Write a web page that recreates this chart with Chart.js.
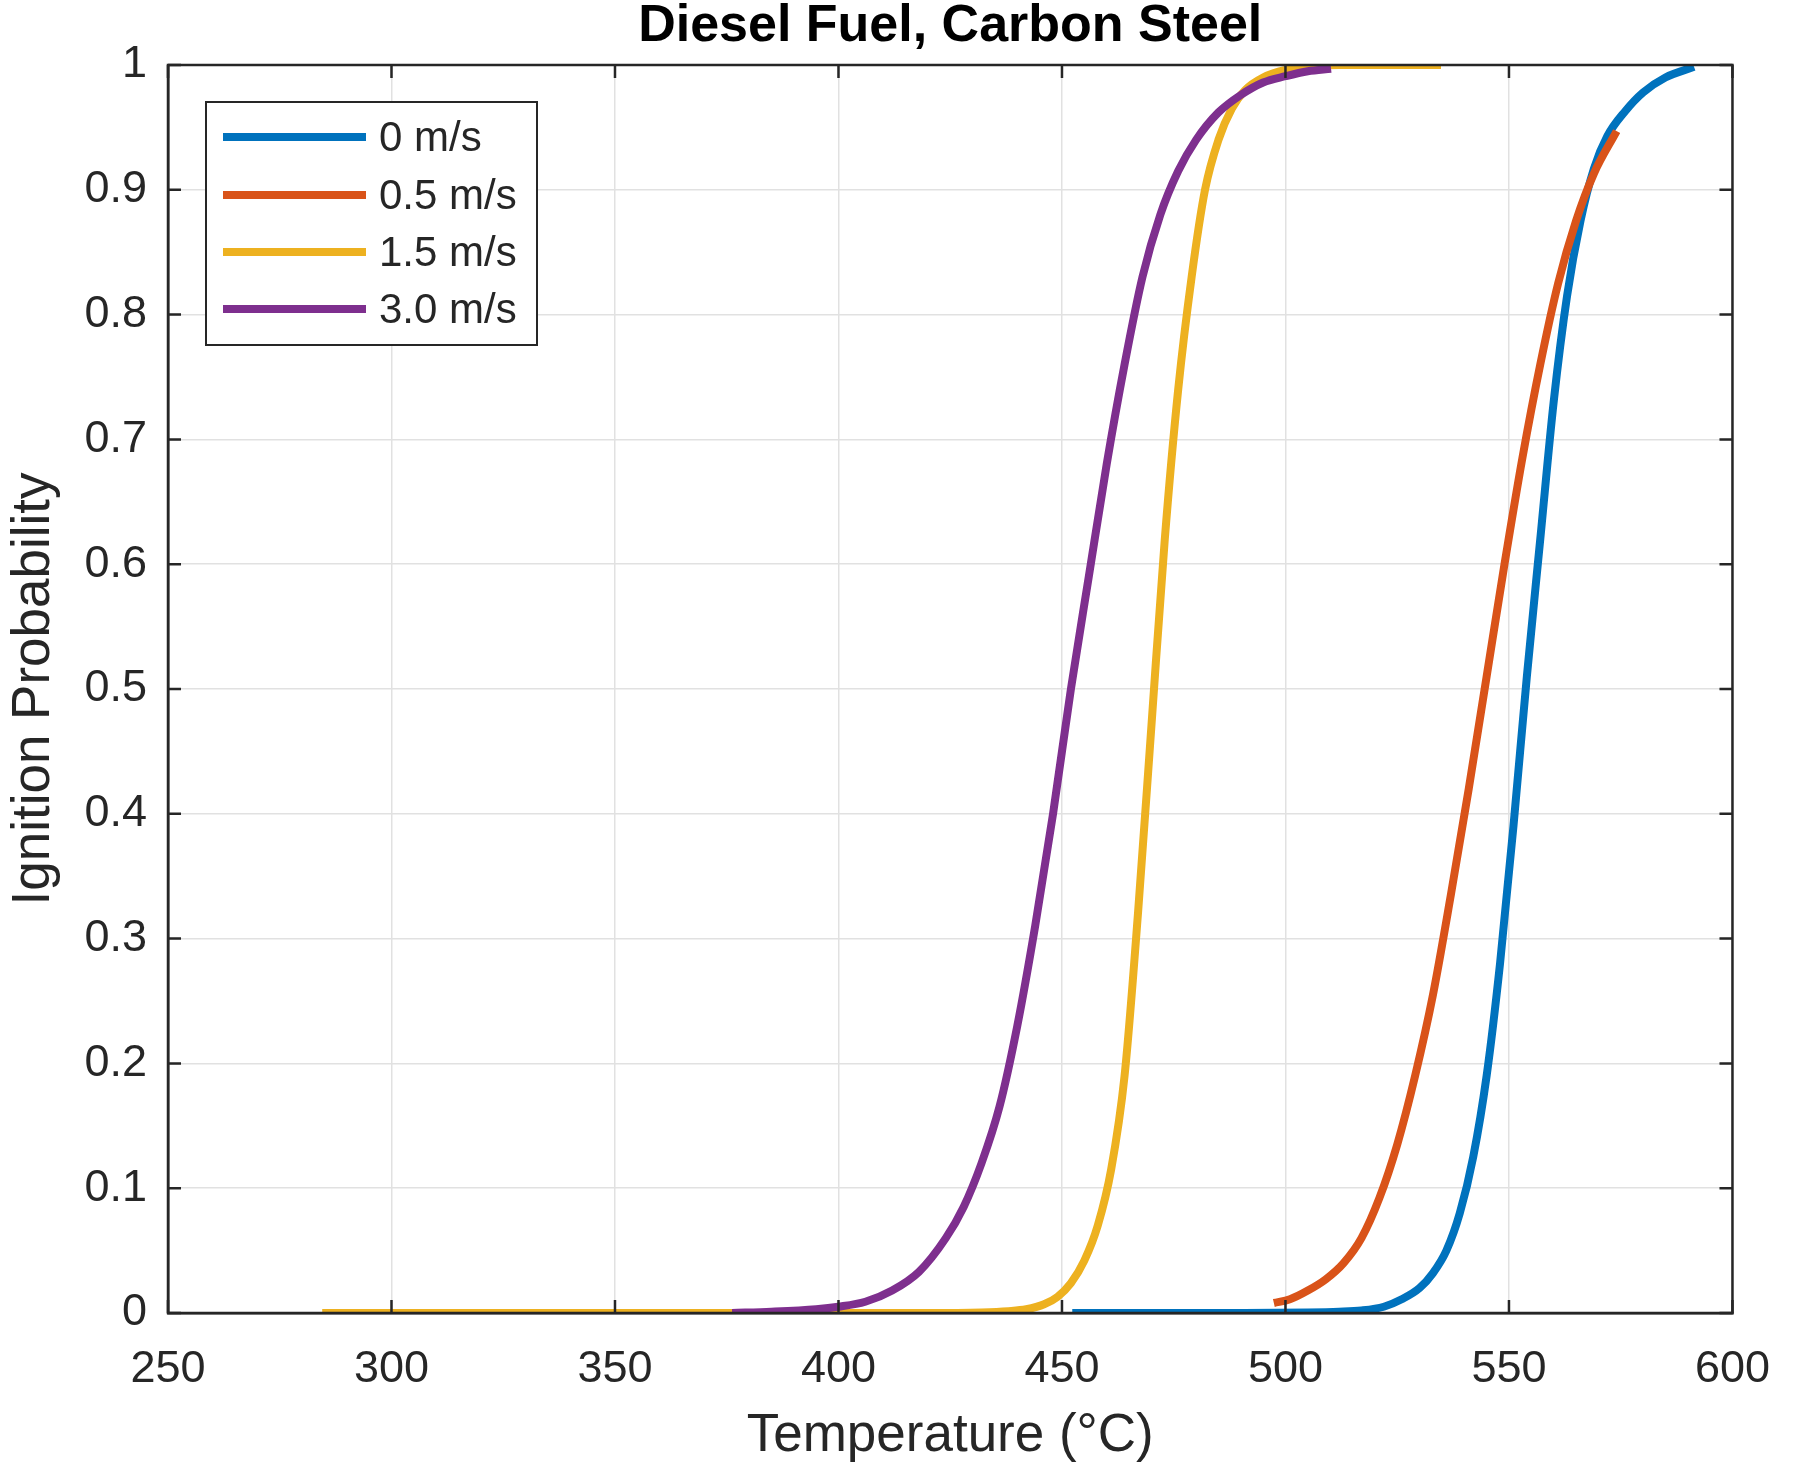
<!DOCTYPE html>
<html>
<head>
<meta charset="utf-8">
<script src="https://cdn.jsdelivr.net/npm/chart.js@4.4.1/dist/chart.umd.min.js"></script>
<style>
  html, body { margin: 0; padding: 0; background: #ffffff; }
  canvas { display: block; }
</style>
</head>
<body>
<canvas id="c" width="1800" height="1473"></canvas>
<script>
// ---- Data ----
const seriesLabels = ['0 m/s', '0.5 m/s', '1.5 m/s', '3.0 m/s'];
const seriesColors = ['#0072BD', '#D95319', '#EDB120', '#7E2F8E'];

const temp0 = [452.3, 490, 505, 512, 517, 522, 526, 530, 533, 536, 539, 542, 545, 548, 551, 554, 557, 560, 563, 566, 569, 572, 576, 580, 585, 591.4];
const prob0 = [0, 0, 0.0004, 0.001, 0.002, 0.005, 0.011, 0.02, 0.032, 0.05, 0.08, 0.125, 0.19, 0.28, 0.39, 0.51, 0.62, 0.73, 0.815, 0.875, 0.917, 0.943, 0.963, 0.978, 0.99, 0.9985];

const temp05 = [497.4, 501, 505, 509, 513, 517, 521, 525, 529, 533, 537, 541, 545, 549, 553, 557, 561, 565, 569, 574.1];
const prob05 = [0.008, 0.011, 0.018, 0.027, 0.04, 0.06, 0.092, 0.135, 0.19, 0.255, 0.335, 0.42, 0.51, 0.6, 0.685, 0.76, 0.825, 0.875, 0.913, 0.947];

const temp15 = [284.5, 380, 420, 432, 438, 442, 446, 449, 452, 455, 458, 461, 464, 467, 470, 473, 476, 479, 482, 485, 488, 491, 495, 500, 506, 512, 534.8];
const prob15 = [0, 0, 0, 0.0005, 0.0015, 0.003, 0.007, 0.013, 0.024, 0.042, 0.07, 0.115, 0.19, 0.32, 0.47, 0.62, 0.74, 0.83, 0.9, 0.94, 0.965, 0.98, 0.99, 0.996, 0.999, 1, 1];

const temp30 = [376.2, 385, 395, 400, 406, 412, 418, 424, 428, 432, 436, 440, 444, 448, 452, 456, 460, 464, 468, 472, 476, 480, 485, 490, 495, 500, 505, 510.2];
const prob30 = [0, 0.001, 0.003, 0.005, 0.009, 0.018, 0.033, 0.06, 0.085, 0.12, 0.165, 0.23, 0.31, 0.4, 0.5, 0.59, 0.68, 0.76, 0.83, 0.88, 0.915, 0.94, 0.962, 0.976, 0.986, 0.991, 0.995, 0.997];

const xTickValues = [250, 300, 350, 400, 450, 500, 550, 600];
const yTickValues = [0, 0.1, 0.2, 0.3, 0.4, 0.5, 0.6, 0.7, 0.8, 0.9, 1];

const chartTitle = 'Diesel Fuel, Carbon Steel';
const xTitle = 'Temperature (°C)';
const yTitle = 'Ignition Probability';

// ---- Build datasets ----
const xs = [temp0, temp05, temp15, temp30];
const ys = [prob0, prob05, prob15, prob30];
const drawOrder = [3, 2, 1, 0]; // later (MATLAB) series drawn on top

const FONT = "'Liberation Sans', Arial, Helvetica, sans-serif";
const AXIS_COLOR = '#262626';
const LINE_W = 8;

const datasets = seriesLabels.map((lab, i) => ({
  label: lab,
  data: xs[i].map((x, k) => ({ x: x, y: ys[i][k] })),
  borderColor: seriesColors[i],
  backgroundColor: seriesColors[i],
  borderWidth: LINE_W,
  pointRadius: 0,
  pointHoverRadius: 0,
  fill: false,
  cubicInterpolationMode: 'monotone',
  borderCapStyle: 'butt',
  order: drawOrder[i]
}));

// ---- Plugins: box with inward ticks, and MATLAB-style legend ----
const boxPlugin = {
  id: 'boxTicks',
  afterDatasetsDraw(chart) {
    const ctx = chart.ctx;
    const a = chart.chartArea;
    const xs_ = chart.scales.x, ys_ = chart.scales.y;
    const tl = 13;
    ctx.save();
    ctx.strokeStyle = AXIS_COLOR;
    ctx.lineWidth = 2.5;
    ctx.beginPath();
    xTickValues.forEach(v => {
      const p = xs_.getPixelForValue(v);
      ctx.moveTo(p, a.bottom); ctx.lineTo(p, a.bottom - tl);
      ctx.moveTo(p, a.top); ctx.lineTo(p, a.top + tl);
    });
    yTickValues.forEach(v => {
      const p = ys_.getPixelForValue(v);
      ctx.moveTo(a.left, p); ctx.lineTo(a.left + tl, p);
      ctx.moveTo(a.right, p); ctx.lineTo(a.right - tl, p);
    });
    ctx.stroke();
    ctx.beginPath();
    ctx.rect(a.left, a.top, a.right - a.left, a.bottom - a.top);
    ctx.stroke();
    ctx.restore();
  }
};

const legendPlugin = {
  id: 'matlabLegend',
  afterDraw(chart) {
    const ctx = chart.ctx;
    const a = chart.chartArea;
    const bx = a.left + 38, by = a.top + 37, bw = 331, bh = 243;
    const rows = [35, 93, 150, 207];
    ctx.save();
    ctx.fillStyle = '#ffffff';
    ctx.fillRect(bx, by, bw, bh);
    ctx.strokeStyle = AXIS_COLOR;
    ctx.lineWidth = 2;
    ctx.strokeRect(bx, by, bw, bh);
    chart.data.datasets.forEach((ds, i) => {
      const y = by + rows[i];
      ctx.strokeStyle = ds.borderColor;
      ctx.lineWidth = LINE_W;
      ctx.lineCap = 'butt';
      ctx.beginPath();
      ctx.moveTo(bx + 17, y);
      ctx.lineTo(bx + 160, y);
      ctx.stroke();
      ctx.fillStyle = AXIS_COLOR;
      ctx.font = '42px ' + FONT;
      ctx.textBaseline = 'middle';
      ctx.textAlign = 'left';
      ctx.fillText(ds.label, bx + 173, y + 2);
    });
    ctx.restore();
  }
};

new Chart(document.getElementById('c'), {
  type: 'line',
  data: { datasets: datasets },
  plugins: [boxPlugin, legendPlugin],
  options: {
    responsive: false,
    animation: false,
    devicePixelRatio: 1,
    layout: { padding: { left: 0, right: 54, top: 0, bottom: 0 } },
    plugins: {
      legend: { display: false },
      tooltip: { enabled: false },
      title: {
        display: true,
        text: chartTitle,
        fullSize: false,
        color: '#000000',
        font: { family: FONT, size: 52, weight: 'bold', lineHeight: 1 },
        padding: { top: 1, bottom: 12 }
      }
    },
    scales: {
      x: {
        type: 'linear',
        min: 250, max: 600,
        afterBuildTicks: (s) => { s.ticks = xTickValues.map(v => ({ value: v })); },
        afterFit: (s) => { s.height = 160; },
        ticks: {
          color: AXIS_COLOR,
          padding: 30,
          maxRotation: 0,
          autoSkip: false,
          font: { family: FONT, size: 45, lineHeight: 1.2 },
          callback: (v) => String(v)
        },
        grid: { color: '#e1e1e1', lineWidth: 1.5, drawTicks: false },
        border: { display: true, color: AXIS_COLOR, width: 2.5 },
        title: {
          display: true,
          text: xTitle,
          color: AXIS_COLOR,
          font: { family: FONT, size: 53, lineHeight: 1.2 },
          padding: { top: 0, bottom: 5 }
        }
      },
      y: {
        type: 'linear',
        min: 0, max: 1,
        afterBuildTicks: (s) => { s.ticks = yTickValues.map(v => ({ value: v })); },
        afterFit: (s) => { s.width = 168; },
        ticks: {
          color: AXIS_COLOR,
          padding: 21,
          autoSkip: false,
          font: { family: FONT, size: 45, lineHeight: 1.2 },
          callback: (v) => String(Math.round(v * 10) / 10)
        },
        grid: { color: '#e1e1e1', lineWidth: 1.5, drawTicks: false },
        border: { display: true, color: AXIS_COLOR, width: 2.5 },
        title: {
          display: true,
          text: yTitle,
          color: AXIS_COLOR,
          font: { family: FONT, size: 53, lineHeight: 1.2 },
          padding: { top: 3, bottom: 0 }
        }
      }
    }
  }
});
</script>
</body>
</html>
